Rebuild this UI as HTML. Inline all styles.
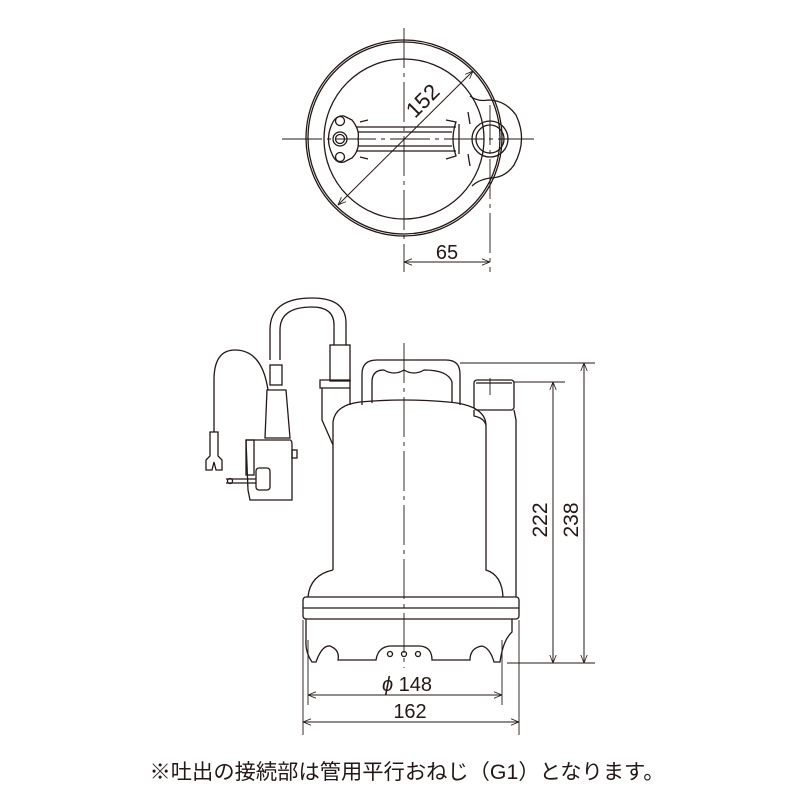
<!DOCTYPE html>
<html><head><meta charset="utf-8"><style>
html,body{margin:0;padding:0;background:#fff;}
svg{display:block;}
text{font-family:"Liberation Sans","Noto Sans CJK JP",sans-serif;fill:#231815;}
</style></head><body>
<svg width="800" height="800" viewBox="0 0 800 800" xmlns="http://www.w3.org/2000/svg">
<defs>
<marker id="a" viewBox="0 0 10 10" refX="10" refY="5" markerWidth="8" markerHeight="8" orient="auto-start-reverse"><path d="M0,1 L10,5 L0,9" fill="none" stroke="#231815" stroke-width="1"/></marker>
</defs>
<g fill="none" stroke="#231815" stroke-width="1.3">
<!-- TOP VIEW -->
<circle cx="404" cy="138" r="98"/>
<circle cx="404" cy="138" r="96"/>
<circle cx="404" cy="139" r="80"/>
<path d="M470,96 Q478,102 488,100 Q505,100 516,115 Q528,140 514,165 Q505,178 490,178 Q478,180 472,186"/>
<circle cx="490" cy="139" r="18"/>
<circle cx="490" cy="139" r="14"/>
<line x1="468" y1="112" x2="470" y2="124"/><line x1="468" y1="154" x2="470" y2="166"/>
<path d="M332,124 Q336,115 344,116 L352,120 Q360,130 358,139 Q360,150 352,158 L344,162 Q336,164 332,154 Q325,139 332,124Z"/>
<circle cx="340" cy="139" r="7"/><circle cx="340" cy="139" r="4.5"/>
<circle cx="340" cy="121" r="4.5"/><circle cx="340" cy="157" r="4.5"/>
<line x1="356" y1="127" x2="456" y2="127"/><line x1="356" y1="151" x2="456" y2="151"/>
<line x1="358" y1="132" x2="452" y2="132"/><line x1="358" y1="146" x2="452" y2="146"/>
<path d="M360,122 L368,120 M360,157 L368,159 M446,120 L456,122 Q450,139 456,156 L446,159"/>
<line x1="459" y1="124" x2="459" y2="154"/>
<g stroke-width="0.9" stroke-dasharray="40,5,4,5">
<line x1="404" y1="28" x2="404" y2="272"/>
<line x1="282" y1="139" x2="534" y2="139"/>
<line x1="490" y1="105" x2="490" y2="272"/>
<line x1="404" y1="343" x2="404" y2="668"/>
</g>
<line x1="338" y1="205" x2="473" y2="71" stroke-width="1" marker-start="url(#a)" marker-end="url(#a)"/>
<line x1="404" y1="262" x2="490" y2="262" stroke-width="1" marker-start="url(#a)" marker-end="url(#a)"/>

<!-- SIDE VIEW -->
<path d="M362,405 L362,374 Q362,360 377,360 L446,360 Q460,360 460,374 L460,405"/>
<path d="M372,403 L372,382 Q372,370 384,370 Q394,376 404,370 Q414,376 424,370 Q448,370 452,382 L452,402"/>
<path d="M333,570 L333,422 Q335,405 360,402 Q404,398 448,402 Q485,405 486,425 L486,570 Q502,575 503,597"/>
<path d="M333,570 Q310,575 308,597"/>
<rect x="474" y="380" width="40" height="30" rx="3"/>
<line x1="476" y1="383" x2="512" y2="383"/>
<path d="M474,410 L474,416 Q484,418 486,425 M514,410 L516,420 L516,597"/>
<path d="M320,388 L350,388 L350,380 L320,380 Z"/>
<path d="M322,388 L322,420 L333,445 M350,388 L350,405"/>
<rect x="330" y="345" width="20" height="36"/>
<path d="M334,345 L334,325 Q334,307 312,307 Q280,307 280,330 L280,360"/>
<path d="M346,345 L346,323 Q346,298 312,298 Q270,298 270,330 L270,360"/>
<rect x="270" y="365" width="12" height="20"/>
<path d="M267,390 L286,390 L290,438 L265,438Z"/>
<path d="M268,390 Q262,350 235,350 Q214,350 214,380 L214,432"/>
<path d="M210,432 L218,432 L218,456 L222,460 L222,470 L216,470 L214,462 L212,470 L206,470 L206,460 L210,456Z"/>
<path d="M246,440 L290,440 Q292,440 292,445 L292,500 L250,500 L248,490 L246,440"/>
<rect x="246" y="440" width="8" height="35"/>
<rect x="292" y="450" width="5" height="8"/>
<rect x="256" y="468" width="14" height="22" rx="3"/>
<line x1="226" y1="483" x2="256" y2="483"/><line x1="226" y1="479" x2="256" y2="479"/>
<circle cx="230" cy="481" r="2.5"/>
<rect x="303" y="597" width="216" height="22" rx="3"/>
<line x1="303" y1="608" x2="519" y2="608"/>
<path d="M306,619 L306,640 Q305,652 312,662 L316,662 Q322,645 330,646 Q340,650 338,660 L376,660 Q378,647 390,646 L420,646 Q432,647 432,660 L470,660 Q470,648 482,646 Q490,648 494,662 L500,662 Q503,640 512,632 L512,619"/>
<circle cx="390" cy="654" r="2.5"/><circle cx="404" cy="654" r="2.5"/><circle cx="418" cy="654" r="2.5"/>
<g stroke-width="0.9">
<line x1="460" y1="363" x2="595" y2="363"/>
<line x1="514" y1="382" x2="565" y2="382"/>
<line x1="507" y1="663" x2="595" y2="663"/>
<line x1="303" y1="620" x2="303" y2="735"/>
<line x1="519" y1="620" x2="519" y2="735"/>
<line x1="308" y1="640" x2="308" y2="705"/>
<line x1="502" y1="640" x2="502" y2="705"/>
<line x1="490" y1="378" x2="490" y2="395"/>
</g>
<line x1="553" y1="382" x2="553" y2="663" stroke-width="1" marker-start="url(#a)" marker-end="url(#a)"/>
<line x1="584" y1="363" x2="584" y2="663" stroke-width="1" marker-start="url(#a)" marker-end="url(#a)"/>
<line x1="308" y1="695" x2="502" y2="695" stroke-width="1" marker-start="url(#a)" marker-end="url(#a)"/>
<line x1="303" y1="722" x2="519" y2="722" stroke-width="1" marker-start="url(#a)" marker-end="url(#a)"/>
</g>
<g stroke="none">
<text x="428" y="106" font-size="22" text-anchor="middle" transform="rotate(-45 428 106)">152</text>
<text x="447" y="259" font-size="20" text-anchor="middle">65</text>
<text x="547" y="520" font-size="21" text-anchor="middle" transform="rotate(-90 547 520)">222</text>
<text x="578" y="520" font-size="21" text-anchor="middle" transform="rotate(-90 578 520)">238</text>
<text x="407" y="691" font-size="20" text-anchor="middle"><tspan font-style="italic">ϕ</tspan> 148</text>
<text x="410" y="718" font-size="20" text-anchor="middle">162</text>
<text x="407" y="779" font-size="21" text-anchor="middle" textLength="515" lengthAdjust="spacingAndGlyphs">※吐出の接続部は管用平行おねじ（G1）となります。</text>
</g>
</svg>
</body></html>
